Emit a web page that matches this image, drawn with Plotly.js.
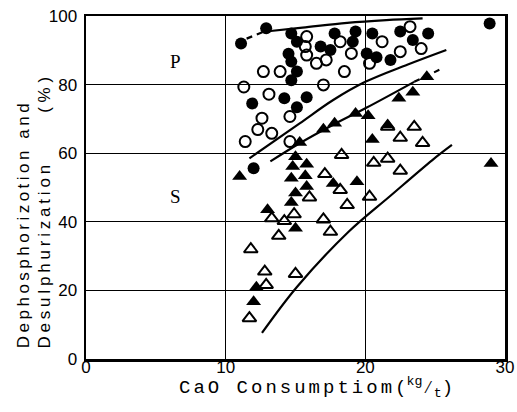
<!DOCTYPE html>
<html>
<head>
<meta charset="utf-8">
<script src="https://cdn.plot.ly/plotly-3.0.1.min.js"></script>
<style>
  html, body { margin: 0; padding: 0; background: #fff; }
  #chart { width: 517px; height: 412px; }
</style>
</head>
<body>
<div id="chart"></div>
<script>
// ---- Data ----
// Dephosphorization (P) points
const pFilledX = [11.1, 12.9, 14.7, 15.1, 14.5, 14.7, 15.1, 14.7, 16.8, 17.5, 17.8, 19.3, 19.1, 20.5, 22.5, 23.4, 24.5, 28.9, 20.1, 20.8, 21.8, 11.9, 14.2, 15.1, 15.8, 12.0];
const pFilledY = [92.0, 96.4, 94.9, 92.5, 89.0, 86.7, 83.8, 81.3, 91.1, 90.1, 94.9, 95.5, 92.5, 94.9, 95.5, 93.0, 94.9, 97.8, 89.1, 88.0, 87.2, 74.5, 76.0, 73.4, 76.3, 55.6];
const pOpenX = [11.3, 12.7, 13.9, 13.1, 12.6, 12.3, 13.3, 11.4, 14.6, 14.6, 15.8, 15.7, 15.8, 16.5, 17.2, 18.2, 19.0, 18.5, 17.0, 21.2, 20.3, 22.5, 23.2, 24.0];
const pOpenY = [79.3, 83.8, 83.8, 77.2, 70.2, 66.9, 65.8, 63.4, 70.7, 63.4, 94.0, 91.1, 88.6, 86.2, 87.2, 92.5, 89.1, 83.8, 79.9, 92.5, 86.2, 89.6, 96.9, 90.5];
// Desulphurization (S) points
const sFilledX = [24.4, 23.4, 22.4, 20.2, 19.3, 17.8, 17.0, 15.3, 21.6, 20.5, 29.0, 11.0, 15.0, 14.8, 15.8, 14.7, 15.7, 15.8, 15.0, 14.7, 17.7, 19.4, 13.0, 15.0, 12.2, 12.0];
const sFilledY = [82.3, 77.8, 76.0, 70.9, 71.6, 68.7, 67.0, 63.1, 68.2, 64.0, 57.0, 53.2, 59.0, 56.1, 56.8, 52.7, 53.4, 50.3, 48.4, 45.6, 51.2, 51.7, 43.5, 38.1, 20.9, 16.7];
const sOpenX = [21.6, 23.5, 22.5, 24.1, 18.3, 20.6, 21.6, 22.5, 20.3, 17.1, 18.2, 18.7, 16.0, 13.3, 14.2, 14.9, 17.0, 17.5, 13.8, 11.8, 12.8, 12.9, 15.0, 11.7];
const sOpenY = [67.7, 67.7, 64.5, 63.0, 59.5, 57.2, 58.4, 54.9, 47.3, 53.9, 49.3, 44.9, 47.1, 41.0, 40.2, 42.2, 40.7, 37.1, 35.9, 32.0, 25.5, 21.6, 24.8, 11.9];
// Hand-drawn trend curves
const curvePTopX = [11.5, 12.7, 15.5, 18.7, 21.5, 24.1];
const curvePTopY = [93.4, 95.4, 96.6, 98.0, 98.8, 99.3];
const curvePLowX = [11.7, 15.3, 17.7, 20.0, 23.0, 25.8];
const curvePLowY = [58.5, 68.7, 75.5, 80.8, 85.8, 90.1];
const curveSTopX = [13.2, 15.3, 17.7, 20.1, 23.5, 25.3];
const curveSTopY = [57.6, 62.9, 68.3, 73.3, 80.8, 84.3];
const curveSLowX = [12.6, 15.1, 18.8, 21.8, 24.8, 26.2];
const curveSLowY = [7.6, 21.0, 37.1, 47.6, 58.0, 62.4];
const xTicks = [0, 10, 20, 30];
const yTicks = [0, 20, 40, 60, 80, 100];

const lineStyle = {color: '#000', width: 2.2, shape: 'spline', smoothing: 1};
const dashStyle = {color: '#000', width: 2.2, shape: 'spline', dash: '6px,5px'};

const traces = [
  {x: curvePTopX.slice(0, 2), y: curvePTopY.slice(0, 2), mode: 'lines', line: dashStyle, hoverinfo: 'skip', showlegend: false},
  {x: curvePTopX.slice(1), y: curvePTopY.slice(1), mode: 'lines', line: lineStyle, hoverinfo: 'skip', showlegend: false},
  {x: curvePLowX, y: curvePLowY, mode: 'lines', line: lineStyle, hoverinfo: 'skip', showlegend: false},
  {x: curveSTopX.slice(0, 5), y: curveSTopY.slice(0, 5), mode: 'lines', line: lineStyle, hoverinfo: 'skip', showlegend: false},
  {x: curveSTopX.slice(4), y: curveSTopY.slice(4), mode: 'lines', line: dashStyle, hoverinfo: 'skip', showlegend: false},
  {x: curveSLowX, y: curveSLowY, mode: 'lines', line: lineStyle, hoverinfo: 'skip', showlegend: false},
  {x: pOpenX, y: pOpenY, mode: 'markers', name: 'P (open)', showlegend: false,
   marker: {symbol: 'circle-open', size: 11, color: '#000', line: {width: 2, color: '#000'}}},
  {x: pFilledX, y: pFilledY, mode: 'markers', name: 'P (filled)', showlegend: false,
   marker: {symbol: 'circle', size: 12, color: '#000'}},
  {x: sOpenX, y: sOpenY, mode: 'markers', name: 'S (open)', showlegend: false,
   marker: {symbol: 'triangle-up-open', size: 12, color: '#000', line: {width: 2, color: '#000'}}},
  {x: sFilledX, y: sFilledY, mode: 'markers', name: 'S (filled)', showlegend: false,
   marker: {symbol: 'triangle-up', size: 13, color: '#000'}}
];

const tickFont = {family: 'Liberation Sans, Arial, sans-serif', size: 17, color: '#000'};
const titleFont = {family: 'Liberation Sans, Arial, sans-serif', size: 17, color: '#000'};
const spaced = (t, px) => '<span style="letter-spacing:' + px + 'px">' + t + '</span>';

const layout = {
  width: 517, height: 412,
  margin: {l: 86, r: 12, t: 16, b: 53},
  paper_bgcolor: '#fff', plot_bgcolor: '#fff',
  showlegend: false,
  xaxis: {
    range: [0, 30], tickvals: xTicks, ticktext: xTicks.map(String),
    showgrid: true, gridcolor: '#000', gridwidth: 1.3,
    zeroline: false, showline: true, mirror: true, linecolor: '#000', linewidth: 2.5,
    ticks: '', tickfont: tickFont, fixedrange: true, ticklabelstandoff: -9
  },
  yaxis: {
    range: [0, 100], tickvals: yTicks, ticktext: yTicks.map(String),
    showgrid: true, gridcolor: '#000', gridwidth: 1.3,
    zeroline: false, showline: true, mirror: true, linecolor: '#000', linewidth: 2.5,
    ticks: '', tickfont: tickFont, fixedrange: true, ticklabelstandoff: 3
  },
  annotations: [
    {text: spaced('Dephosphorizotion and', 3.5), xref: 'paper', yref: 'paper', x: -0.150, y: 0.026,
     textangle: -90, showarrow: false, xanchor: 'center', yanchor: 'bottom', font: titleFont},
    {text: spaced('Desulphurization', 3.8), xref: 'paper', yref: 'paper', x: -0.098, y: 0.026,
     textangle: -90, showarrow: false, xanchor: 'center', yanchor: 'bottom', font: titleFont},
    {text: '( % )', xref: 'paper', yref: 'paper', x: -0.098, y: 0.770,
     textangle: -90, showarrow: false, xanchor: 'center', yanchor: 'middle', font: titleFont},
    {text: spaced('CaO Consumptiom', 3) + '(<sup>kg</sup>⁄<sub>t</sub>)', xref: 'paper', yref: 'paper',
     x: 0.549, y: -0.082, showarrow: false, xanchor: 'center', yanchor: 'middle',
     font: {family: 'Liberation Mono, Courier New, monospace', size: 19, color: '#000'}},
    {text: 'P', x: 6.4, y: 86.6, xref: 'x', yref: 'y', showarrow: false,
     font: {family: 'Liberation Serif, Times New Roman, serif', size: 19, color: '#000'}},
    {text: 'S', x: 6.4, y: 47.5, xref: 'x', yref: 'y', showarrow: false,
     font: {family: 'Liberation Serif, Times New Roman, serif', size: 19, color: '#000'}}
  ]
};

Plotly.newPlot('chart', traces, layout, {staticPlot: true, displayModeBar: false});
</script>
</body>
</html>
